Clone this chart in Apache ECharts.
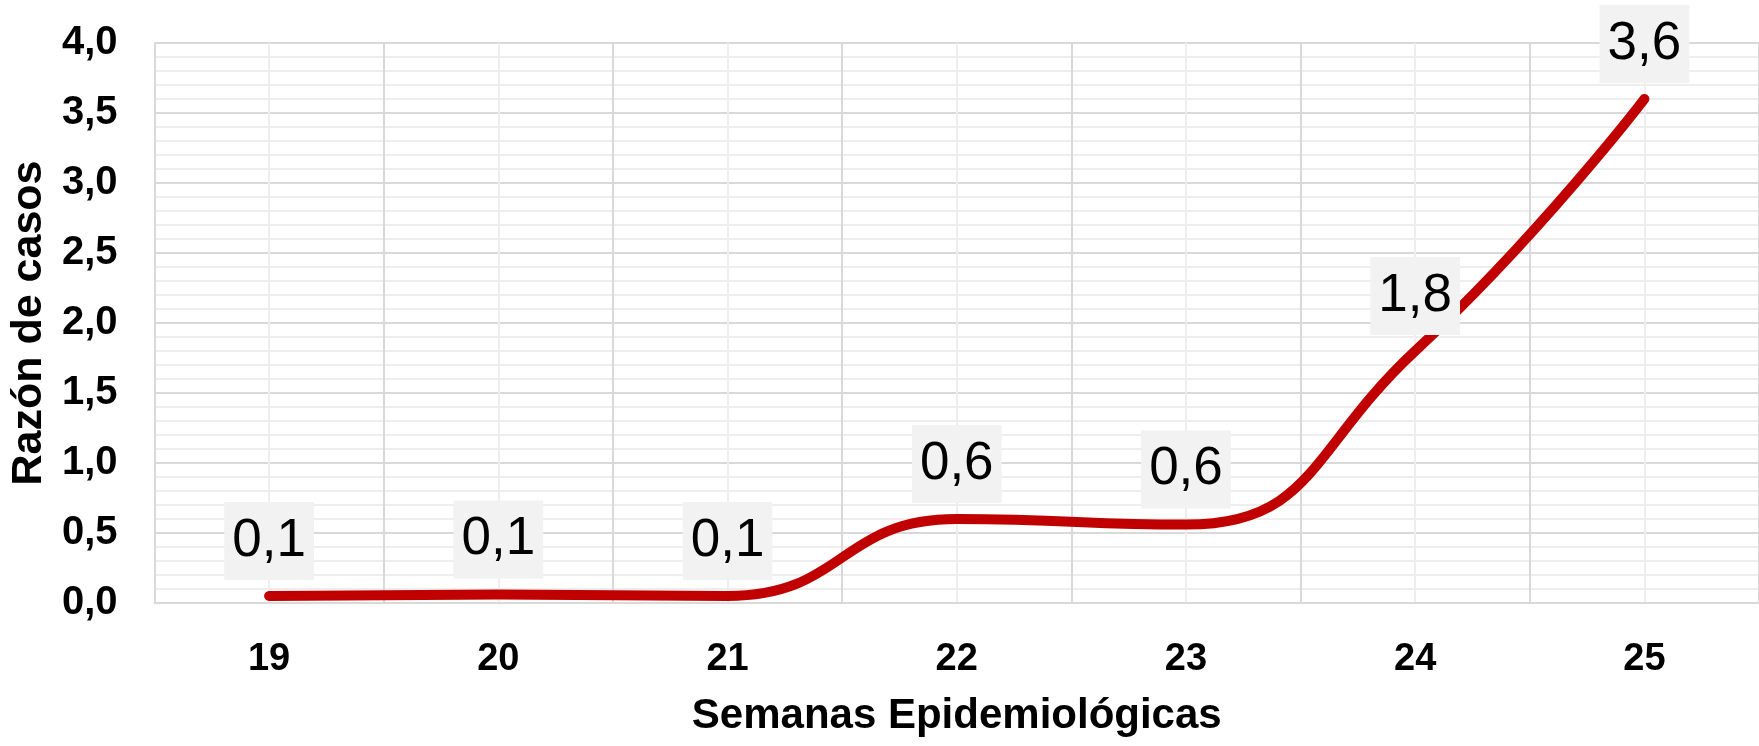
<!DOCTYPE html>
<html>
<head>
<meta charset="utf-8">
<script src="https://cdn.jsdelivr.net/npm/echarts@6/dist/echarts.min.js"></script>
<style>
  html, body { margin: 0; padding: 0; background: #fff; }
  #chart { width: 1759px; height: 746px; }
</style>
</head>
<body>
<div id="chart"></div>
<script>
// semanas epidemiológicas
const weeks = ['19', '20', '21', '22', '23', '24', '25']
// razón de casos (línea suavizada)
const ratios = [0.05, 0.06, 0.05, 0.6, 0.56, 1.8, 3.6]
// eje Y
const yMin = 0
const yMax = 4
const yStep = 0.5

const fontFamily = "'Liberation Sans', Arial, sans-serif"
const fmt = v => v.toFixed(1).replace('.', ',')

const chart = echarts.init(document.getElementById('chart'))

const option = {
  animation: false,
  grid: {
    left: 154,
    top: 43,
    width: 1613,
    height: 560
  },
  xAxis: [
    {
      type: 'category',
      data: weeks,
      boundaryGap: true,
      name: 'Semanas Epidemiológicas',
      nameLocation: 'middle',
      nameGap: 92,
      nameTextStyle: {
        color: '#000',
        fontSize: 42,
        fontWeight: 'bold',
        fontFamily: fontFamily
      },
      axisLine: { show: true, lineStyle: { color: '#d9d9d9', width: 2 } },
      axisTick: { show: false },
      axisLabel: {
        color: '#000',
        fontSize: 38,
        fontWeight: 'bold',
        fontFamily: fontFamily,
        margin: 38
      },
      splitLine: { show: false }
    },
    {
      // solo para las líneas verticales de la cuadrícula
      type: 'value',
      min: 0,
      max: weeks.length,
      interval: 1,
      position: 'bottom',
      axisLine: { show: false },
      axisTick: { show: false },
      axisLabel: { show: false },
      splitLine: { show: true, lineStyle: { color: '#d9d9d9', width: 2 } },
      minorTick: { show: false, splitNumber: 2 },
      minorSplitLine: { show: true, lineStyle: { color: '#eeeeee', width: 2 } }
    }
  ],
  yAxis: {
    type: 'value',
    min: yMin,
    max: yMax,
    interval: yStep,
    name: 'Razón de casos',
    nameLocation: 'middle',
    nameRotate: 90,
    nameGap: 103,
    nameTextStyle: {
      color: '#000',
      fontSize: 43,
      fontWeight: 'bold',
      fontFamily: fontFamily
    },
    axisLine: { show: true, lineStyle: { color: '#d9d9d9', width: 2 } },
    axisTick: { show: false },
    axisLabel: {
      color: '#000',
      fontSize: 40,
      fontWeight: 'bold',
      fontFamily: fontFamily,
      margin: 37,
      formatter: fmt
    },
    splitLine: { show: true, lineStyle: { color: '#d9d9d9', width: 2 } },
    minorTick: { show: false, splitNumber: 5 },
    minorSplitLine: { show: true, lineStyle: { color: '#eeeeee', width: 2 } }
  },
  series: [
    {
      name: 'Razón de casos',
      type: 'line',
      xAxisIndex: 0,
      data: ratios,
      smooth: 0.5,
      symbol: 'circle',
      symbolSize: 2,
      itemStyle: { color: '#c00000' },
      lineStyle: { color: '#c00000', width: 10, cap: 'round', join: 'round' },
      label: {
        show: true,
        position: 'top',
        distance: 15,
        color: '#000',
        fontSize: 53,
        fontFamily: fontFamily,
        lineHeight: 58,
        padding: [10, 8],
        backgroundColor: '#f2f2f2',
        formatter: p => fmt(p.value)
      },
      z: 3
    }
  ]
}

chart.setOption(option)
window.addEventListener('resize', () => chart.resize())
</script>
</body>
</html>
